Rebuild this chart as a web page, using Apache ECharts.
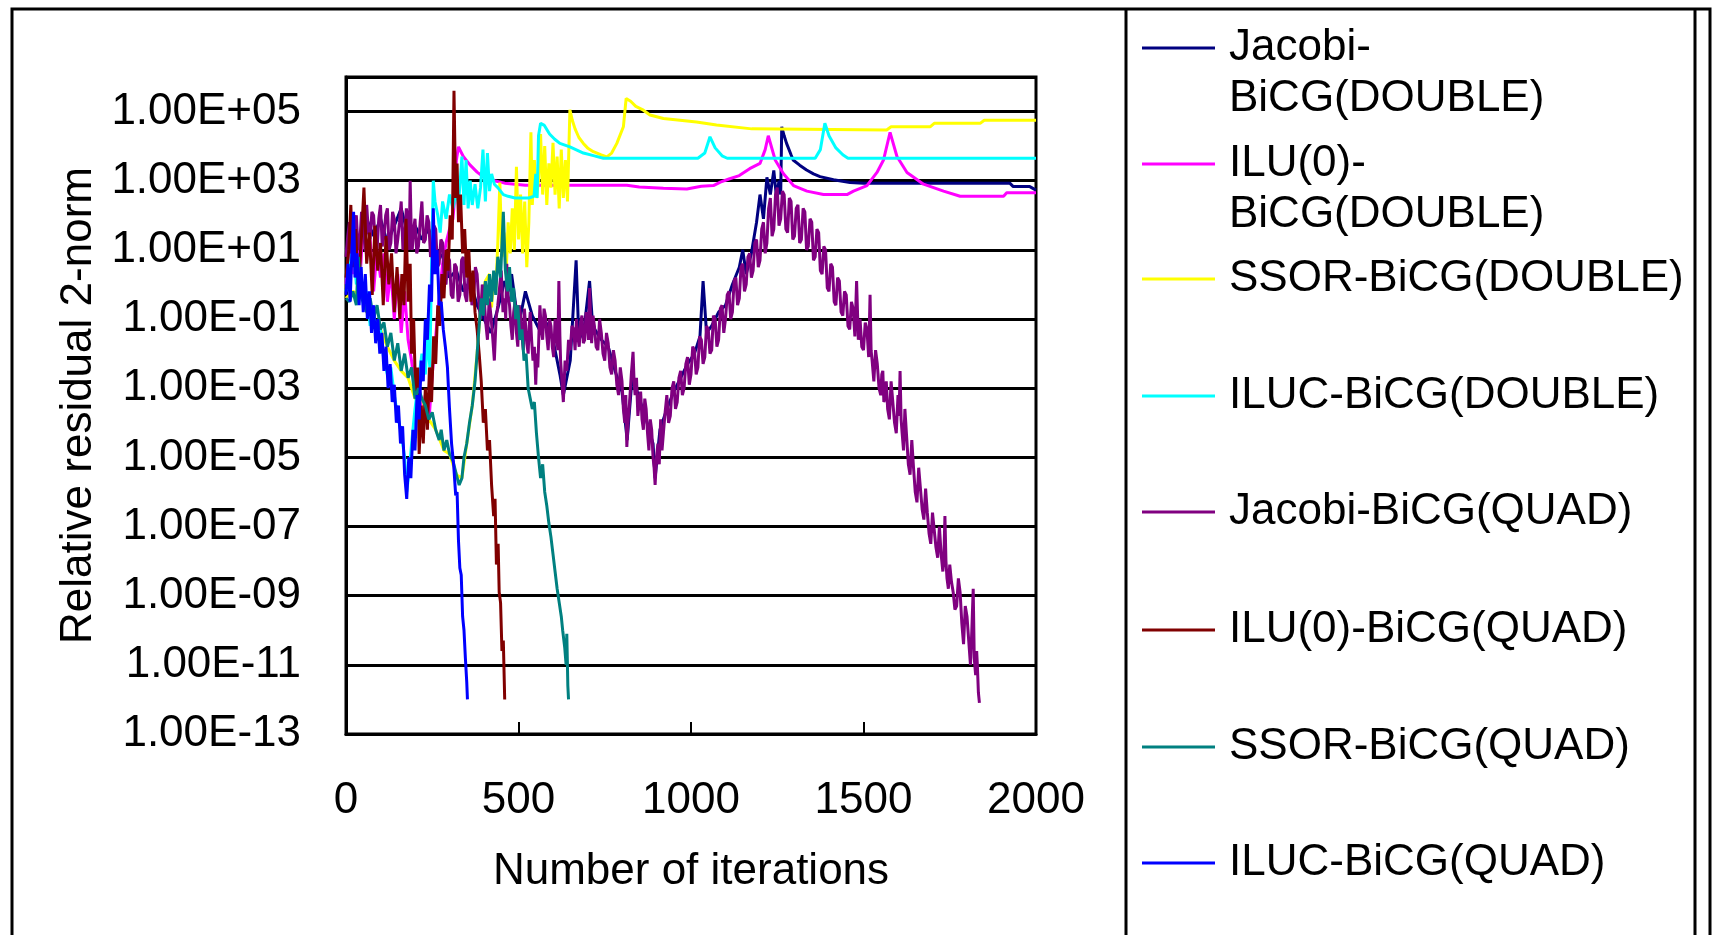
<!DOCTYPE html>
<html>
<head>
<meta charset="utf-8">
<title>Relative residual 2-norm</title>
<script src="https://cdn.jsdelivr.net/npm/echarts@6.0.0/dist/echarts.min.js"></script>
<style>
html,body{margin:0;padding:0;background:#fff;}
#Chart{width:1717px;height:935px;}
</style>
</head>
<body>
<div id="Chart"></div>
<script>
//系列名称与颜色
var seriesNames=['Jacobi-BiCG(DOUBLE)','ILU(0)-BiCG(DOUBLE)','SSOR-BiCG(DOUBLE)','ILUC-BiCG(DOUBLE)',
    'Jacobi-BiCG(QUAD)','ILU(0)-BiCG(QUAD)','SSOR-BiCG(QUAD)','ILUC-BiCG(QUAD)']
var seriesColors=['#000080','#FF00FF','#FFFF00','#00FFFF','#800080','#800000','#008080','#0000FF']

//数据: [iterations, log10(relative residual)]
var jacobiDouble=[[0,1.0],[20,1.3],[40,0.9],[60,1.9],[80,1.4],[100,1.9],[120,1.2],[140,1.7],[160,2.2],[180,1.4],[200,1.7],[220,1.3],[240,1.6],[260,1.0],[280,0.8],[300,0.2],[320,0.4],[340,-0.2],[360,0.1],[380,-0.6],[400,-1.0],[420,-1.4],[440,-0.7],[460,0.1],[470,-0.2],[480,0.3],[500,-1.2],[520,-0.2],[540,-0.9],[560,-1.3],[580,-1.1],[600,-1.6],[620,-2.6],[630,-3.2],[650,-2.2],[667,0.7],[675,-1.6],[690,-1.3],[706,0.1],[715,-1.2],[740,-1.6],[760,-1.8],[780,-2.5],[800,-3.1],[815,-4.5],[830,-2.6],[850,-3.3],[870,-3.9],[890,-4.6],[896,-5.6],[910,-4.2],[930,-3.6],[950,-3.1],[970,-2.7],[990,-2.3],[1010,-2.0],[1026,-1.5],[1035,0.1],[1045,-1.4],[1060,-1.2],[1080,-0.8],[1100,-0.6],[1120,0.0],[1140,0.5],[1150,1.0],[1160,0.3],[1175,0.9],[1190,1.8],[1200,2.6],[1210,1.9],[1220,3.1],[1230,2.6],[1240,3.3],[1248,2.5],[1255,3.0],[1260,2.6],[1263,4.56],[1270,4.3],[1277,4.08],[1290,3.75],[1296,3.6],[1315,3.45],[1335,3.31],[1355,3.2],[1374,3.12],[1413,3.03],[1461,2.95],[1500,2.93],[1924,2.93],[1934,2.83],[1982,2.83],[2000,2.73]]
var iluDouble=[[0,0.0],[10,1.1],[20,0.3],[30,1.4],[40,0.0],[50,1.9],[60,0.8],[70,1.3],[80,-0.2],[90,1.0],[100,0.2],[110,0.9],[120,-0.5],[130,0.4],[140,-1.0],[150,0.3],[160,-1.4],[170,-0.2],[180,-1.6],[190,-2.2],[200,-3.0],[210,-2.6],[220,-3.8],[230,-3.2],[240,-4.0],[250,-2.6],[260,-1.5],[266,-0.8],[272,-0.2],[280,0.6],[290,1.2],[300,1.6],[310,1.9],[316,2.6],[320,3.6],[326,3.98],[340,3.7],[360,3.45],[380,3.25],[400,3.1],[430,3.0],[460,2.93],[520,2.87],[814,2.87],[850,2.82],[920,2.78],[988,2.76],[1030,2.84],[1065,2.86],[1085,2.96],[1110,3.05],[1140,3.15],[1170,3.35],[1200,3.5],[1215,3.9],[1224,4.3],[1244,3.6],[1268,3.2],[1297,2.86],[1336,2.7],[1384,2.6],[1452,2.6],[1471,2.7],[1510,2.86],[1539,3.24],[1558,3.6],[1577,4.4],[1597,3.7],[1626,3.24],[1674,2.9],[1732,2.7],[1780,2.55],[1906,2.55],[1915,2.65],[2000,2.65]]
var ssorDouble=[[0,-0.4],[20,-0.2],[42,-0.3],[60,-0.8],[80,-1.0],[100,-1.3],[120,-1.8],[140,-2.2],[160,-2.5],[180,-2.7],[200,-3.3],[220,-3.3],[240,-3.9],[260,-4.2],[284,-4.8],[300,-4.9],[320,-5.5],[336,-5.6],[350,-4.6],[366,-3.5],[380,-2.0],[392,-0.4],[404,0.1],[416,0.3],[422,-0.66],[428,0.3],[434,-0.2],[440,1.2],[446,2.95],[452,0.8],[458,1.5],[464,0.3],[470,1.8],[476,0.9],[482,2.2],[488,1.0],[494,3.4],[500,1.3],[506,2.6],[512,0.9],[518,2.4],[524,0.5],[530,1.8],[536,4.4],[540,2.3],[546,3.6],[552,2.5],[558,3.0],[564,4.35],[570,2.6],[576,4.0],[582,2.3],[588,3.5],[594,2.8],[600,4.1],[606,2.6],[612,3.7],[618,2.2],[624,3.9],[630,2.5],[636,3.6],[642,2.4],[649,5.05],[656,4.75],[664,4.5],[675,4.25],[688,4.08],[700,3.95],[717,3.84],[740,3.75],[756,3.69],[770,3.8],[785,4.08],[804,4.56],[812,5.38],[825,5.3],[840,5.15],[862,5.04],[881,4.9],[920,4.8],[968,4.75],[1016,4.7],[1074,4.61],[1176,4.5],[1567,4.47],[1580,4.56],[1693,4.56],[1705,4.66],[1838,4.66],[1850,4.75],[2000,4.75]]
var ilucDouble=[[0,-0.2],[10,0.4],[20,1.2],[30,0.0],[40,0.6],[50,-0.6],[60,-0.2],[70,-1.2],[80,-0.8],[90,-1.6],[100,-1.3],[110,-2.2],[120,-2.6],[130,-2.4],[140,-3.2],[150,-3.8],[160,-4.3],[170,-5.0],[176,-6.0],[184,-5.3],[192,-4.4],[200,-3.6],[210,-2.8],[220,-2.0],[230,-2.6],[236,-1.5],[243,-2.4],[248,0.5],[253,3.0],[258,2.4],[266,2.0],[273,1.5],[280,2.4],[290,1.9],[300,2.6],[310,2.2],[320,2.7],[326,2.3],[336,3.7],[342,2.3],[348,3.6],[354,2.2],[360,3.0],[366,2.3],[374,2.9],[382,2.2],[390,2.8],[397,3.9],[404,2.4],[410,3.8],[416,2.7],[422,3.2],[430,2.9],[440,2.8],[456,2.6],[470,2.55],[490,2.5],[530,2.5],[545,2.55],[550,3.2],[554,2.5],[558,4.3],[564,4.66],[575,4.6],[590,4.35],[605,4.2],[620,4.08],[649,3.98],[688,3.8],[720,3.72],[746,3.65],[1020,3.65],[1040,3.8],[1055,4.27],[1070,3.95],[1090,3.72],[1105,3.65],[1360,3.65],[1375,3.9],[1388,4.66],[1400,4.3],[1420,3.95],[1440,3.75],[1455,3.65],[2000,3.65]]
var jacobiQuad=[[0,0.8],[5,1.4],[10,1.8],[15,0.9],[20,1.1],[25,1.7],[30,2.0],[35,1.0],[40,1.2],[45,2.1],[50,1.9],[55,1.0],[60,2.3],[65,1.5],[70,1.3],[75,2.1],[80,2.0],[85,1.2],[90,1.0],[95,1.9],[100,2.3],[105,1.1],[110,1.4],[115,2.0],[120,2.2],[125,1.0],[130,1.2],[135,2.1],[140,1.9],[145,0.9],[150,1.3],[155,1.8],[160,2.4],[165,1.0],[170,1.4],[175,2.2],[180,1.8],[183,1.0],[186,3.0],[189,1.6],[192,1.0],[196,1.6],[200,1.9],[205,0.9],[210,1.1],[215,1.8],[220,2.4],[225,1.2],[230,1.3],[235,2.0],[240,1.8],[245,0.8],[250,0.9],[255,1.7],[260,1.6],[265,0.5],[270,0.6],[275,1.3],[280,1.2],[285,0.1],[290,0.0],[295,0.8],[300,0.7],[305,-0.3],[310,-0.4],[315,0.6],[320,0.5],[325,-0.5],[330,-0.3],[335,0.7],[340,0.8],[345,-0.3],[350,-0.5],[355,0.4],[360,0.2],[365,-0.6],[370,-0.4],[375,0.5],
    [380,0.3],[385,-0.5],[390,-1.0],[395,0.0],[400,-0.3],[405,-1.1],[410,-1.6],[415,-0.4],[420,-0.9],[425,-1.5],[430,-2.2],[435,-1.0],[440,-0.6],[445,-0.1],[450,0.4],[455,-0.8],[460,-0.4],[463,-1.0],[466,0.6],[470,-0.3],[474,-0.6],[478,-1.2],[482,-1.6],[486,-0.8],[490,-0.5],[494,-1.4],[498,-1.8],[502,-0.6],[506,-0.9],[510,-1.5],[514,-1.9],[517,-0.7],[520,-1.1],[524,-1.7],[528,-2.0],[531,-1.2],[534,-0.8],[538,-1.6],[542,-2.2],[546,-1.8],[550,-2.9],[553,-2.0],[556,-2.4],[559,-1.5],[562,-0.6],[566,-1.3],[570,-1.6],[574,-0.7],[578,-0.9],[582,-1.5],[586,-1.9],[590,-1.0],[594,-1.2],[598,-1.8],[602,-2.1],[606,-1.0],[610,-1.4],[614,-1.9],[617,0.1],[620,-1.5],[622,-2.2],[626,-2.8],[630,-3.4],[635,-2.2],[640,-2.5],[645,-1.6],[650,-1.9],[655,-1.2],[660,-1.3],[664,-1.9],[668,-1.0],[672,-1.5],[676,-1.8],[680,-1.1],[684,-0.9],[688,-1.7],[692,-1.6],[696,-0.8],[700,-1.1],[703,-1.6],[706,-0.1],[709,-1.0],[712,-1.7],[716,-0.9],[720,-1.2],[725,-1.8],[730,-1.9],[735,-1.0],[740,-1.4],[745,-2.0],[750,-2.2],[755,-1.4],[760,-1.7],[765,-2.4],[770,-2.6],[775,-1.9],[780,-2.2],[785,-2.9],[790,-3.2],[795,-2.4],[800,-2.8],[804,-3.6],[808,-4.0],[811,-3.2],[814,-4.7],[818,-3.9],[822,-3.4],[827,-2.6],[832,-1.95],[835,-2.8],[838,-3.2],[842,-2.7],[846,-3.8],[850,-3.4],[854,-3.1],[858,-3.9],[862,-4.2],[866,-3.3],[870,-3.6],[874,-4.3],[878,-4.8],[882,-3.9],[886,-4.2],[890,-5.0],[893,-5.3],[896,-5.8],[900,-5.0],[904,-4.6],[908,-5.2],[912,-3.9],[916,-4.8],[920,-4.3],[925,-3.7],[930,-3.2],[935,-4.0],[940,-3.8],[945,-3.0],[950,-2.8],[955,-3.6],[960,-3.4],[965,-2.7],[970,-2.5],[975,-3.2],[980,-3.0],[985,-2.3],[990,-2.1],[995,-2.9],
    [1000,-2.6],[1005,-1.8],[1010,-1.9],[1015,-2.6],[1020,-2.4],[1025,-1.5],[1030,-1.6],[1035,-2.3],[1040,-2.1],[1045,-1.2],[1050,-1.3],[1055,-2.0],[1060,-1.9],[1065,-0.9],[1070,-1.0],[1075,-1.8],[1080,-1.6],[1085,-0.7],[1090,-0.6],[1095,-1.4],[1100,-1.0],[1105,-0.3],[1110,-0.2],[1115,-1.0],[1120,-0.8],[1125,0.1],[1130,0.2],[1135,-0.6],[1140,-0.4],[1145,0.5],[1150,0.6],[1155,-0.2],[1160,0.0],[1165,0.8],[1170,0.9],[1175,0.2],[1180,0.4],[1185,1.2],[1190,1.3],[1195,0.5],[1200,0.7],[1205,1.6],[1210,1.8],[1215,0.9],[1220,1.2],[1225,2.2],[1230,2.5],[1235,1.4],[1240,1.6],[1245,2.6],[1250,2.8],[1255,1.7],[1260,1.9],[1265,2.7],[1270,2.6],[1275,1.6],[1280,1.5],[1285,2.5],[1290,2.4],[1295,1.3],[1300,1.4],[1305,2.2],[1310,2.3],[1315,1.2],[1320,1.3],[1325,2.2],[1330,2.1],[1335,1.0],[1340,1.1],[1345,1.9],[1350,1.8],[1355,0.7],[1360,0.8],[1365,1.6],[1370,1.5],[1375,0.4],[1380,0.3],[1385,1.1],[1390,1.0],[1395,-0.1],[1400,-0.2],[1405,0.6],[1410,0.5],[1415,-0.5],[1420,-0.6],[1425,0.2],[1430,0.1],[1435,-0.8],[1440,-0.9],[1445,-0.2],[1450,-0.3],[1455,-1.2],[1460,-1.3],[1465,-0.5],[1470,-0.7],[1475,-1.5],[1480,0.1],[1485,-1.6],[1490,-1.0],[1495,-1.8],[1500,-1.9],[1505,-1.1],[1510,-1.3],[1515,-2.1],[1519,-0.3],[1522,-1.9],[1525,-2.2],[1530,-2.8],[1535,-1.9],[1540,-2.3],[1545,-3.0],[1550,-3.2],[1553,-2.6],[1556,-2.5],[1559,-3.4],[1562,-3.3],[1566,-2.8],[1570,-3.6],[1575,-3.9],[1580,-2.8],[1585,-3.4],[1590,-4.0],[1595,-4.3],[1600,-3.2],[1603,-3.8],[1606,-2.5],[1609,-3.9],[1612,-4.3],[1616,-4.8],[1620,-3.6],[1625,-4.4],[1630,-5.2],[1635,-5.5],[1640,-4.5],[1645,-5.3],[1650,-6.0],[1655,-6.3],[1660,-5.3],[1665,-5.9],[1670,-6.5],[1675,-6.8],[1680,-5.9],[1685,-6.6],[1690,-7.2],[1695,-7.5],[1700,-6.6],[1705,-7.1],[1710,-7.6],[1715,-7.9],[1720,-7.0],[1725,-7.8],[1730,-8.3],[1733,-7.9],[1736,-6.7],[1739,-8.0],[1742,-8.5],[1746,-8.8],[1750,-8.1],[1755,-8.6],[1760,-8.9],[1765,-9.4],[1770,-9.3],[1775,-8.5],[1780,-8.9],[1785,-9.8],[1790,-10.4],[1795,-9.3],[1800,-9.6],[1805,-10.3],[1810,-11.0],[1814,-10.0],[1818,-8.8],[1821,-10.8],[1825,-11.3],[1828,-10.6],[1830,-11.0],[1833,-11.8],[1836,-12.1]]
var iluQuad=[[0,0.2],[8,1.0],[14,2.3],[20,0.5],[28,1.6],[36,-0.2],[44,1.2],[52,2.8],[60,0.6],[68,1.5],[76,-0.3],[84,1.7],[92,0.4],[100,1.2],[108,-0.6],[116,1.4],[124,0.0],[132,0.9],[140,-0.8],[148,0.5],[156,-1.0],[162,0.3],[168,-0.6],[174,1.9],[180,-0.5],[186,0.6],[190,-2.0],[196,-1.0],[202,-3.2],[208,-2.4],[212,-4.9],[218,-3.5],[224,-4.6],[230,-3.0],[236,-4.2],[242,-2.4],[248,-3.4],[254,-1.5],[260,-2.3],[266,-0.6],[272,-1.2],[278,0.3],[284,-0.4],[290,1.0],[296,0.4],[302,2.0],[308,1.3],[313,5.6],[318,2.5],[322,3.5],[326,1.8],[332,2.6],[338,0.9],[344,1.6],[350,0.2],[356,1.0],[362,-0.5],[368,0.4],[374,-0.8],[380,-1.3],[386,-2.0],[392,-2.8],[398,-4.0],[404,-3.6],[410,-4.8],[416,-4.5],[422,-5.8],[428,-6.7],[432,-6.2],[436,-8.1],[441,-7.5],[444,-8.9],[448,-9.2],[452,-10.6],[456,-10.3],[460,-12.0]]
var ssorQuad=[[0,-0.4],[10,-0.5],[20,-0.2],[30,-0.6],[36,0.8],[42,-0.3],[50,-0.5],[60,-0.8],[70,-0.4],[80,-1.0],[90,-0.6],[100,-1.3],[110,-1.1],[120,-1.8],[130,-1.4],[140,-2.2],[150,-1.7],[160,-2.5],[170,-2.0],[180,-2.7],[190,-2.4],[200,-3.3],[210,-3.0],[220,-3.3],[230,-3.5],[240,-3.9],[250,-3.7],[260,-4.2],[270,-4.5],[276,-4.2],[284,-4.8],[292,-4.5],[300,-4.9],[310,-5.1],[320,-5.5],[328,-5.8],[336,-5.6],[342,-5.0],[350,-4.6],[358,-4.0],[366,-3.5],[374,-2.8],[380,-2.0],[386,-1.2],[392,-0.4],[398,-0.9],[404,0.1],[410,-0.6],[416,0.3],[422,-0.5],[428,0.4],[434,-0.3],[440,0.8],[448,0.2],[456,2.1],[462,0.4],[468,-0.2],[474,0.5],[480,-0.5],[486,-0.1],[492,-1.0],[498,-0.6],[504,-1.6],[510,-1.3],[516,-2.2],[522,-2.0],[528,-3.0],[534,-3.3],[540,-3.6],[546,-3.4],[552,-4.3],[558,-5.0],[564,-5.6],[570,-5.2],[576,-6.0],[582,-6.4],[588,-6.9],[594,-7.3],[600,-7.8],[606,-8.3],[612,-8.8],[618,-9.2],[624,-9.6],[628,-10.0],[634,-10.5],[638,-11.0],[640,-10.1],[643,-11.6],[645,-12.0]]
var ilucQuad=[[0,-0.3],[6,0.6],[12,-0.5],[18,1.2],[22,2.1],[26,0.2],[32,0.9],[38,-0.6],[44,0.5],[50,-0.8],[56,0.3],[62,-1.0],[68,-0.2],[74,-1.4],[80,-0.6],[86,-1.7],[92,-1.0],[98,-2.0],[104,-1.4],[110,-2.5],[116,-1.8],[122,-3.0],[128,-2.3],[134,-3.4],[140,-2.9],[146,-4.0],[152,-3.5],[158,-4.6],[164,-4.1],[170,-5.5],[176,-6.2],[182,-5.0],[188,-5.6],[194,-4.2],[200,-4.8],[206,-3.2],[212,-3.9],[218,-2.2],[224,-2.8],[230,-1.0],[236,-1.6],[242,0.0],[248,-0.5],[253,2.2],[258,0.3],[264,1.0],[270,-0.6],[276,-0.5],[282,-1.3],[288,-1.8],[294,-2.4],[300,-3.6],[306,-4.6],[312,-5.2],[318,-6.1],[322,-6.0],[326,-7.4],[330,-8.2],[334,-8.4],[338,-9.6],[342,-10.0],[346,-10.8],[350,-11.5],[352,-12.0]]

var seriesPoints=[jacobiDouble,iluDouble,ssorDouble,ilucDouble,jacobiQuad,iluQuad,ssorQuad,ilucQuad]

//坐标轴
var xTicks=[0,500,1000,1500,2000]
var yMinExp=-13,yMaxExp=6,yStepExp=2

var fontName='"Liberation Sans", Arial, sans-serif'
//图例行中心
var legendRows=[48,164,279,396,512,630,747,863]
var legendFirstLine={'Jacobi-BiCG(DOUBLE)':'Jacobi-','ILU(0)-BiCG(DOUBLE)':'ILU(0)-'}

function expLabel(v){
    var e=Math.round(Math.log(v)/Math.LN10)
    var a=Math.abs(e)
    return '1.00E'+(e<0?'-':'+')+(a<10?'0':'')+a
}

function $each(arr,fn){
    for(var i=0;i<arr.length;i++){fn(i,arr[i])}
}

function drawChar(){
    var myChart=echarts.init(document.getElementById('Chart'),null,{renderer:'canvas'})
    var series=[],legends=[]
    $each(seriesNames,function(i,name){
        series.push({
            name:name,
            type:'line',
            symbol:'none',
            showSymbol:false,
            color:seriesColors[i],
            lineStyle:{color:seriesColors[i],width:3},
            emphasis:{disabled:true},
            data:seriesPoints[i].map(function(p){return [p[0],Math.pow(10,p[1])]})
        })
        legends.push({
            data:[name],
            left:1142,
            top:legendRows[i]-25,
            padding:0,
            icon:'rect',
            itemWidth:73,
            itemHeight:3,
            selectedMode:false,
            formatter:function(n){return legendFirstLine[n]||n},
            textStyle:{fontSize:44,fontFamily:fontName,color:'#000',lineHeight:50,padding:[0,0,0,9]}
        })
    })
    var option={
        animation:false,
        backgroundColor:'#fff',
        grid:{left:346,top:77,width:690,height:657,show:true,borderColor:'#000',borderWidth:3,backgroundColor:'#fff'},
        legend:legends,
        xAxis:{
            type:'value',min:xTicks[0],max:xTicks[xTicks.length-1],interval:xTicks[1]-xTicks[0],
            axisLine:{show:true,onZero:false,lineStyle:{color:'#000',width:3}},
            axisTick:{show:true,inside:true,length:12,lineStyle:{color:'#000',width:2}},
            axisLabel:{fontSize:44,fontFamily:fontName,color:'#000',margin:45,formatter:function(v){return String(v)}},
            splitLine:{show:false},
            name:'Number of iterations',nameLocation:'middle',nameGap:116,
            nameTextStyle:{fontSize:44,fontFamily:fontName,color:'#000'}
        },
        yAxis:{
            type:'log',logBase:10,min:Math.pow(10,yMinExp),max:Math.pow(10,yMaxExp),interval:yStepExp,
            axisLine:{show:true,lineStyle:{color:'#000',width:3}},
            axisTick:{show:false},
            axisLabel:{fontSize:44,fontFamily:fontName,color:'#000',margin:45,showMaxLabel:false,formatter:expLabel},
            splitLine:{show:true,lineStyle:{color:'#000',width:3}},
            name:'Relative residual 2-norm',nameLocation:'middle',nameRotate:90,nameGap:245,
            nameTextStyle:{fontSize:44,fontFamily:fontName,color:'#000'}
        },
        graphic:[
            //外框与图例框
            {type:'rect',silent:true,z:100,shape:{x:12,y:9,width:1698,height:1000},style:{fill:'none',stroke:'#000',lineWidth:3}},
            {type:'line',silent:true,z:100,shape:{x1:1126,y1:9,x2:1126,y2:935},style:{stroke:'#000',lineWidth:3}},
            {type:'line',silent:true,z:100,shape:{x1:1695,y1:9,x2:1695,y2:935},style:{stroke:'#000',lineWidth:3}},
            //图例第二行
            {type:'text',silent:true,x:1229,y:99,style:{text:'BiCG(DOUBLE)',font:'44px '+fontName,fill:'#000',verticalAlign:'middle'}},
            {type:'text',silent:true,x:1229,y:215,style:{text:'BiCG(DOUBLE)',font:'44px '+fontName,fill:'#000',verticalAlign:'middle'}}
        ],
        series:series
    }
    myChart.setOption(option)
}

drawChar()
</script>
</body>
</html>
